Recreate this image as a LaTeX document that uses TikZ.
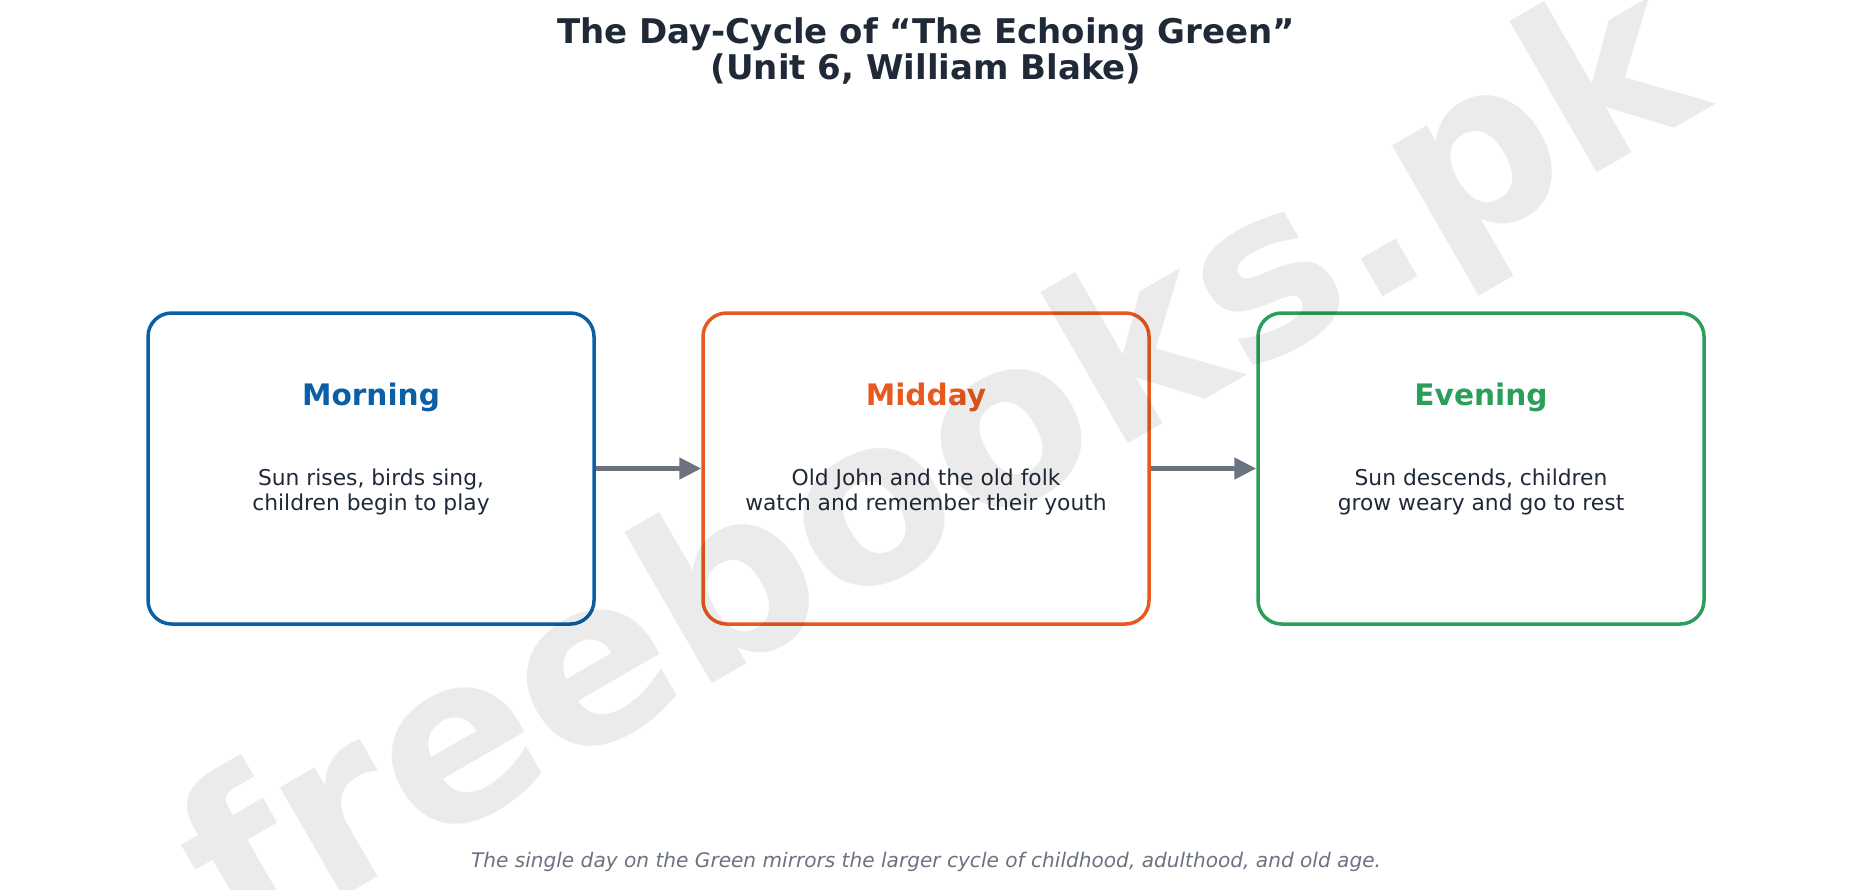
\documentclass[tikz,border=0pt]{standalone}
\usepackage{fontspec}
\setmainfont{DejaVu Sans}
\usetikzlibrary{arrows.meta}
\definecolor{ink}{HTML}{1F2937}
\definecolor{arrowgray}{HTML}{6B7280}
\definecolor{cblue}{HTML}{0B5FA5}
\definecolor{corange}{HTML}{E8591F}
\definecolor{cgreen}{HTML}{2B9E5A}
\tikzset{
  stagebox/.style={draw=#1, line width=3.5pt, rounded corners=23.6pt,
    minimum width=446pt, minimum height=311pt, inner sep=0pt},
  heading/.style={text=#1, font=\fontsize{29.6}{34}\selectfont\bfseries, anchor=base, inner sep=0pt},
  bodytext/.style={text=ink, font=\fontsize{21.8}{25}\selectfont, anchor=base, inner sep=0pt},
  titletext/.style={text=ink, font=\fontsize{34}{38}\selectfont\bfseries, anchor=base, inner sep=0pt},
  foottext/.style={text=arrowgray, font=\fontsize{20.1}{23}\selectfont\itshape, anchor=base, inner sep=0pt},
  flow/.style={draw=arrowgray, line width=4.7pt, -{Triangle[length=22pt,width=21pt]}},
  watermark/.style={text=black, text opacity=0.08, font=\fontsize{230}{236}\selectfont\bfseries, rotate=30, inner sep=0pt}
}
\begin{document}
\begin{tikzpicture}[x=1pt,y=-1pt]
\useasboundingbox (0,0) rectangle (1852,889);
% title
\node[titletext] (title1) at (926,43.3) {The Day-Cycle of “The Echoing Green”};
\node[titletext] (title2) at (926,79) {(Unit 6, William Blake)};
% boxes
\node[stagebox=cblue] (morning) at (371,468.5) {};
\node[stagebox=corange] (midday) at (926,468.5) {};
\node[stagebox=cgreen] (evening) at (1481,468.5) {};
% headings
\node[heading=cblue] (mhead) at (371,405) {Morning};
\node[heading=corange] (dhead) at (926,405) {Midday};
\node[heading=cgreen] (ehead) at (1481,405) {Evening};
% body texts
\node[bodytext] (mbody1) at (371,485) {Sun rises, birds sing,};
\node[bodytext] (mbody2) at (371,510) {children begin to play};
\node[bodytext] (dbody1) at (926,485) {Old John and the old folk};
\node[bodytext] (dbody2) at (926,510) {watch and remember their youth};
\node[bodytext] (ebody1) at (1481,485) {Sun descends, children};
\node[bodytext] (ebody2) at (1481,510) {grow weary and go to rest};
% arrows
\draw[flow] (morning.east) -- (midday.west);
\draw[flow] (midday.east) -- (evening.west);
% footer
\node[foottext] (footer) at (926,867) {The single day on the Green mirrors the larger cycle of childhood, adulthood, and old age.};
% watermark
\node[watermark] (wm) at (945,476) {freebooks.pk};
\end{tikzpicture}
\end{document}
